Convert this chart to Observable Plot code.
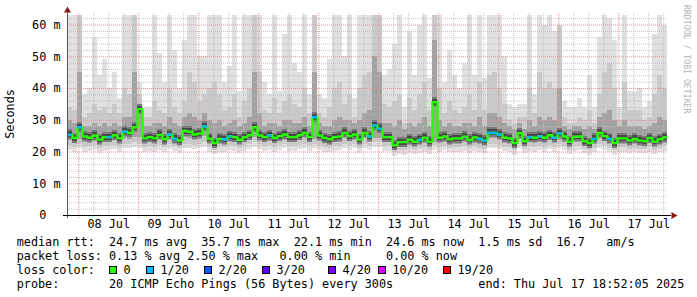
<!DOCTYPE html>
<html><head><meta charset="utf-8">
<script src="https://cdn.jsdelivr.net/npm/d3@7"></script>
<script src="https://cdn.jsdelivr.net/npm/@observablehq/plot@0.6"></script>
<style>
html,body{margin:0;padding:0;background:#fff;}
#wrap{position:relative;width:697px;height:297px;overflow:hidden;font-family:"DejaVu Sans Mono",monospace;background:#fff;}
#wrap svg{position:absolute;left:0;top:0;}
.t{position:absolute;left:16.7px;font-size:11.8px;white-space:pre;color:#000;line-height:14px;}
.sq{position:absolute;width:8px;height:8px;box-sizing:border-box;border:1px solid #000;}
.lg{position:absolute;font-size:11.8px;white-space:pre;color:#000;line-height:14px;}
#ylab{position:absolute;left:10px;top:114px;font-size:11.8px;transform:translate(-50%,-50%) rotate(-90deg);white-space:pre;}
#credit{position:absolute;left:682px;top:5px;font-size:8.2px;color:#b4b4b4;writing-mode:vertical-rl;white-space:pre;}
</style></head>
<body><div id="wrap"></div>
<script>
// ---- data: 2-hour steps, 10 days ending Jul 17 ----
const median = [
25.4,24.4,27.8,24.9,24.5,25.2,23.9,24.7,24.7,25.3,24.3,26.4,26.0,27.8,33.5,24.3,24.7,24.3,25.4,24.0,25.5,24.1,23.6,26.6,26.4,25.5,25.8,28.0,24.2,22.8,
24.1,24.0,24.9,24.7,23.8,24.7,25.3,27.8,25.2,24.7,25.2,24.4,25.0,25.5,24.7,24.7,25.3,26.0,24.7,31.0,25.2,24.4,24.0,24.7,24.9,26.0,25.0,25.5,23.9,26.0,
24.9,28.3,27.3,24.7,24.7,22.1,23.1,23.1,23.9,23.2,23.8,24.5,23.2,35.7,24.5,24.9,24.0,24.3,24.3,24.8,23.8,24.6,24.1,23.6,26.0,26.0,25.5,24.5,24.3,22.8,
25.9,23.4,24.7,24.5,24.9,24.5,25.3,24.5,25.8,24.9,23.2,24.8,24.9,23.4,22.8,24.1,26.0,25.0,24.1,22.8,24.3,24.3,23.6,24.1,23.6,23.4,24.4,23.2,24.0,24.6];
const lossCount = [
1,0,1,0,0,0,0,0,1,0,0,1,0,0,0,0,0,0,0,0,1,1,0,0,0,0,0,1,0,0,
0,1,1,0,0,0,0,0,0,0,1,0,0,0,0,0,0,0,0,1,0,0,0,0,0,0,0,0,0,0,
1,1,1,0,0,0,0,0,0,0,1,0,0,0,0,0,0,0,0,0,0,0,1,1,1,1,1,0,0,0,
0,0,1,0,1,0,0,1,1,0,0,0,0,0,0,1,0,0,1,0,0,0,0,0,0,0,0,0,0,0];
// smoke: outer (min..max), middle, inner band edges
const lo1 = [
20.5,20,21,19.8,20.2,20.5,19.5,20.3,20.5,20.8,20,21,21.2,21.5,21,20,20.3,20,20.6,19.8,20.8,20.2,19.5,21,21,20.8,21,21.5,20,19.2,
20,19.8,20.5,20.3,19.6,20.3,20.8,21.5,20.8,20.3,20.6,20,20.5,21,20.3,20.2,20.8,21,20.2,21,20.6,20,19.8,20.2,20.4,21,20.5,21,19.6,21,
20.4,21.5,21.5,20.3,20.2,18.5,19.2,19,19.6,19.2,19.6,20,19.2,20.5,20,20.4,19.8,20,20,20.3,19.5,20.2,19.8,19.5,21,21,20.8,20.1,20,19,
21,19.5,20.2,20,20.4,20,20.8,20,21,20.4,19.2,20.3,20.4,19.5,19,19.8,21,20.5,19.8,19,20,20,19.5,19.8,19.5,19.4,20,19.2,19.8,20.3];
const lo2 = [
22,21.5,22.5,21.5,21.6,22,21,21.8,22,22.2,21.5,22.5,22.5,23,22.5,21.5,21.8,21.5,22,21.3,22.3,21.6,21,22.5,22.5,22.2,22.5,23,21.5,20.6,
21.5,21.3,22,21.8,21,21.8,22.3,23,22.3,21.8,22,21.5,22,22.5,21.8,21.6,22.2,22.5,21.6,22.5,22,21.5,21.2,21.6,21.8,22.5,22,22.5,21,22.5,
21.8,23,23,21.8,21.6,20,20.6,20.5,21,20.6,21,21.5,20.6,22,21.5,21.8,21.2,21.5,21.5,21.7,21,21.6,21.2,20.9,22.5,22.5,22.2,21.5,21.4,20.4,
22.4,20.8,21.6,21.5,21.8,21.4,22.2,21.5,22.4,21.8,20.6,21.7,21.8,20.8,20.4,21.2,22.4,22,21.2,20.4,21.5,21.5,20.8,21.2,20.8,20.8,21.4,20.6,21.2,21.8];
const lo3 = [
23.6,22.6,24.0,23.1,22.7,23.4,22.1,22.9,22.9,23.5,22.5,24.2,24.0,24.5,24.5,22.5,22.9,22.5,23.6,22.2,23.5,22.3,21.8,24.5,24.4,23.6,23.9,25.0,22.4,21.0,
22.3,22.2,23.0,22.9,22.0,22.9,23.5,24.5,23.4,22.9,23.4,22.6,23.2,23.6,22.9,22.9,23.5,24.1,22.9,24.0,23.4,22.6,22.2,22.9,23.1,24.1,23.2,23.7,22.1,24.1,
23.1,24.2,24.2,22.9,22.9,20.5,21.3,21.3,22.1,21.4,22.0,22.7,21.4,23.0,22.7,23.1,22.2,22.5,22.5,23.0,22.0,22.8,22.3,21.8,24.1,24.1,23.7,22.7,22.5,21.0,
24.0,21.6,22.9,22.7,23.1,22.7,23.5,22.7,23.6,23.1,21.4,23.0,23.1,21.6,21.0,22.3,24.1,23.2,22.3,21.0,22.5,22.5,21.8,22.3,21.8,21.6,22.6,21.4,22.2,22.8];
const hi3 = [
30,29,45,28,28,29,28,29,28,29,28,31,31,45,35,28,28,29,29,28,31,29,28,31,32,31,30,32,30,29,
30,28,29,30,28,29,31,45,32,28,29,29,28,30,30,29,29,31,28,45,29,28,28,30,31,30,30,29,30,32,
33,50,45,29,29,28,30,27,29,28,29,31,28,55,30,28,29,28,28,29,29,28,31,28,32,32,31,29,28,27,
29,27,30,28,31,30,31,30,40,28,27,28,28,27,28,27,31,32,33,30,28,30,28,28,28,27,28,29,31,30];
const hi2 = [
34,33,63,31,32,35,33,34,32,35,32,40,38,63,38,31,31,36,33,32,40,34,32,36,45,42,36,38,40,42,
38,33,34,38,31,36,40,63,45,33,32,37,32,36,38,35,34,40,32,63,32,31,34,40,42,35,38,31,40,44,
45,63,63,35,34,36,38,29,37,33,38,42,33,63,40,32,36,33,32,34,38,33,42,33,44,45,40,35,30,29,
31,31,40,32,45,40,42,40,60,31,29,29,31,30,33,29,38,45,48,40,30,42,33,33,33,30,31,38,44,40];
const hi1 = [
63,63,63,38,40,56,44,49,40,45,37,63,63,63,42,34,34,63,51,42,63,52,40,55,63,63,50,50,63,63,
63,42,47,63,39,63,63,63,63,42,38,63,39,57,63,48,45,63,38,63,38,37,49,63,63,50,63,37,63,63,
63,63,63,44,46,54,63,34,58,44,60,63,43,63,63,42,52,44,40,48,63,44,63,43,63,63,63,50,35,34,
35,35,63,38,63,60,63,58,60,36,34,34,37,34,44,34,56,63,62,55,34,63,39,39,40,34,36,57,63,60];

const yTicks = [0, 10, 20, 30, 40, 50, 60];
const yTickLabels = ["0\u00a0\u00a0", "10 m", "20 m", "30 m", "40 m", "50 m", "60 m"];
const xTickLabels = ["08 Jul","09 Jul","10 Jul","11 Jul","12 Jul","13 Jul","14 Jul","15 Jul","16 Jul","17 Jul"];
const lossLabels = ["0", "1/20", "2/20", "3/20", "4/20", "10/20", "19/20"];
const lossLevels = [0, 1, 2, 3, 4, 10, 19];
const lossColors = ["#26ff00", "#00b8ff", "#0059ff", "#5e00ff", "#7e00ff", "#dd00ff", "#ff0000"];
const statLines = [
 "median rtt:  24.7 ms avg  35.7 ms max  22.1 ms min  24.6 ms now  1.5 ms sd  16.7   am/s",
 "packet loss: 0.13 % avg 2.50 % max   0.00 % min     0.00 % now",
 "loss color:",
 "probe:       20 ICMP Echo Pings (56 Bytes) every 300s            end: Thu Jul 17 18:52:05 2025"
];

// ---- build ----
const HOUR = 3600e3, STEP = 2 * HOUR;
const T0 = Date.UTC(2025, 6, 7, 19, 30);
const rows = median.map((m, i) => ({
  t0: new Date(T0 + i * STEP), t1: new Date(T0 + (i + 1) * STEP),
  med: m, loss: lossCount[i],
  lo1: lo1[i], lo2: lo2[i], lo3: lo3[i], hi1: hi1[i], hi2: hi2[i], hi3: hi3[i]
}));
const last = rows[rows.length - 1];
const linePts = rows.map(r => ({t: r.t0, med: r.med})).concat([{t: last.t1, med: last.med}]);
const xDomain = [new Date(T0), new Date(T0 + 240 * HOUR)];
const days = d3.utcDay.range(xDomain[0], xDomain[1]);
const quarter = d3.utcHour.every(6).range(xDomain[0], xDomain[1]).filter(d => d.getUTCHours() !== 0);
const noons = days.map(d => new Date(+d + 12 * HOUR));
const minorY = d3.range(2, 63, 2).filter(v => v % 10 !== 0);
const majorY = yTicks.filter(v => v > 0);
const colorOf = l => lossColors[lossLevels.indexOf(l)] || "#ff0000";

const chart = Plot.plot({
  width: 697, height: 232,
  marginLeft: 67, marginRight: 30, marginTop: 15, marginBottom: 17,
  style: {fontFamily: '"DejaVu Sans Mono", monospace', fontSize: "11.8px", color: "#000", background: "transparent", overflow: "visible"},
  x: {type: "utc", domain: xDomain},
  y: {domain: [0, 63]},
  marks: [
    Plot.rect(rows, {x1: "t0", x2: "t1", y1: "lo1", y2: "hi1", fill: "#e0e0e0", shapeRendering: "crispEdges"}),
    Plot.rect(rows, {x1: "t0", x2: "t1", y1: "lo2", y2: "hi2", fill: "#cacaca", shapeRendering: "crispEdges"}),
    Plot.rect(rows, {x1: "t0", x2: "t1", y1: "lo3", y2: "hi3", fill: "#a2a2a2", shapeRendering: "crispEdges"}),
    Plot.ruleY(minorY, {stroke: "#bdbdbd", strokeDasharray: "1,1", strokeOpacity: 0.9}),
    Plot.ruleX(quarter, {stroke: "#bdbdbd", strokeDasharray: "1,1", strokeOpacity: 0.9, insetTop: -2}),
    Plot.ruleY(majorY, {stroke: "#e89090", strokeDasharray: "1,1"}),
    Plot.ruleX(days, {stroke: "#e89090", strokeDasharray: "1,1", insetTop: -2, insetBottom: -3}),
    // dark core of the smoke around the median (fixed pixel thickness)
    Plot.rect(rows, {x1: "t0", x2: "t1", y1: "med", y2: "med", insetTop: -5, insetBottom: -5, fill: "#7a7a7a", shapeRendering: "crispEdges"}),
    Plot.rect(rows, {x1: "t0", x2: "t1", y1: "med", y2: "med", insetTop: -3, insetBottom: -3, fill: "#4a4a4a", shapeRendering: "crispEdges"}),
    Plot.line(linePts, {x: "t", y: "med", curve: "step-after", stroke: lossColors[0], strokeWidth: 2.4, strokeLinejoin: "miter", strokeLinecap: "butt"}),
    Plot.ruleY(rows.filter(r => r.loss > 0), {y: "med", x1: "t0", x2: "t1", stroke: d => colorOf(d.loss), strokeWidth: 2.4}),
    Plot.ruleX([xDomain[0]], {stroke: "#555", insetTop: -6, insetBottom: -3}),
    Plot.ruleY([0], {stroke: "#000", insetLeft: -4, insetRight: -4}),
    Plot.dot([{x: xDomain[1], y: 0}], {x: "x", y: "y", symbol: "triangle", r: 2.6, fill: "#8b1a1a", rotate: 90, dx: 6}),
    Plot.dot([{x: xDomain[0], y: 63}], {x: "x", y: "y", symbol: "triangle", r: 2.6, fill: "#8b1a1a", dy: -5}),
    Plot.axisY(yTicks, {tickSize: 0, tickPadding: 7, tickFormat: d => yTickLabels[yTicks.indexOf(d)], label: null, fill: "#000"}),
    Plot.axisX(noons, {tickSize: 0, tickPadding: 4, tickFormat: d => xTickLabels[noons.findIndex(n => +n === +d)], label: null, fill: "#000"})
  ]
});

const wrap = document.getElementById("wrap");
wrap.appendChild(chart);

const tops = [235, 248.5, 262.5, 276.5];
statLines.forEach((s, i) => {
  const el = document.createElement("div");
  el.className = "t"; el.style.top = tops[i] + "px"; el.textContent = s;
  wrap.appendChild(el);
});
const sqX = [109, 146, 204, 262, 328, 378, 443];
lossLabels.forEach((lab, i) => {
  const sq = document.createElement("div");
  sq.className = "sq"; sq.style.left = sqX[i] + "px"; sq.style.top = "265.5px"; sq.style.background = lossColors[i];
  wrap.appendChild(sq);
  const tx = document.createElement("div");
  tx.className = "lg"; tx.style.left = (sqX[i] + 14.5) + "px"; tx.style.top = tops[2] + "px"; tx.textContent = lab;
  wrap.appendChild(tx);
});
const yl = document.createElement("div"); yl.id = "ylab"; yl.textContent = "Seconds"; wrap.appendChild(yl);
const cr = document.createElement("div"); cr.id = "credit"; cr.textContent = "RRDTOOL / TOBI OETIKER"; wrap.appendChild(cr);
</script>
</body></html>
